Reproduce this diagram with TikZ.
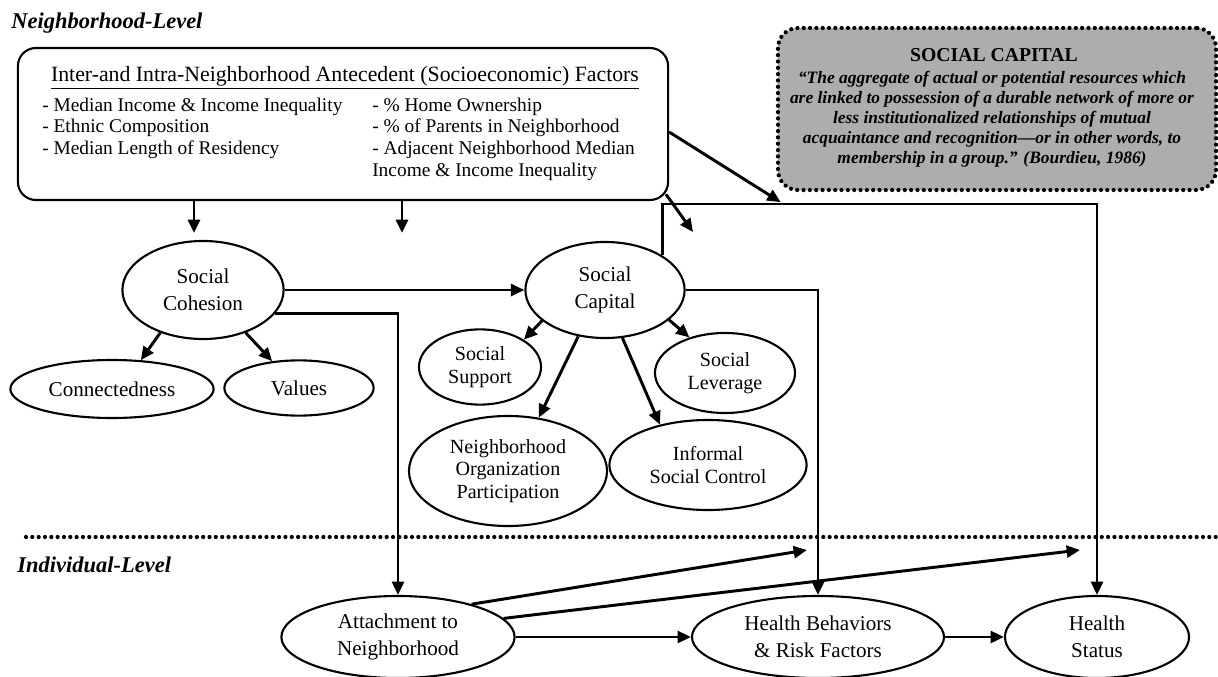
\documentclass[tikz,border=0pt]{standalone}
\usepackage{fontspec}
\setmainfont{Liberation Serif}
\usetikzlibrary{shapes.geometric, arrows.meta, positioning, calc}

\begin{document}
\begin{tikzpicture}[x=0.025cm, y=-0.025cm,
  oval/.style={ellipse, draw, line width=1.5pt, align=center, inner sep=0pt, font=\fontsize{15}{19}\selectfont},
  smalloval/.style={oval, font=\fontsize{14.3}{16}\selectfont},
  arr/.style={-{Triangle[length=9.5pt,width=8.5pt]}, line width=2.1pt},
  itemtext/.style={anchor=west, inner sep=0pt, font=\fontsize{13.8}{15}\selectfont},
  leveltext/.style={anchor=west, inner sep=0pt, font=\fontsize{16}{18}\selectfont\bfseries\itshape},
  dotline/.style={line width=3pt, line cap=round, dash pattern=on 0pt off 4.5pt},
  defbox/.style={rectangle, rounded corners=0.5cm, fill=black!32, draw, dotline, minimum width=10.95cm, minimum height=4.05cm}
]
  \useasboundingbox (0,0) rectangle (1218,677);
  \fill[white] (0,0) rectangle (1218,677);

  % Neighborhood level
  \node[leveltext] (nlevel) at (11,23) {Neighborhood-Level};
  \node[draw, rectangle, rounded corners=0.45cm, line width=1.5pt, minimum width=16.25cm, minimum height=3.8cm] (factors) at (343,124) {};
  \node[inner sep=0pt, font=\fontsize{15.5}{18}\selectfont] (ftitle) at (345,78) {\underline{Inter-and Intra-Neighborhood Antecedent (Socioeconomic) Factors}};
  \node[itemtext] (f1) at (42,107) {- Median Income \& Income Inequality};
  \node[itemtext] (f2) at (42,128) {- Ethnic Composition};
  \node[itemtext] (f3) at (42,150) {- Median Length of Residency};
  \node[itemtext] (f4) at (372,107) {- \% Home Ownership};
  \node[itemtext] (f5) at (372,128) {- \% of Parents in Neighborhood};
  \node[itemtext] (f6) at (372,150) {- Adjacent Neighborhood Median};
  \node[itemtext] (f7) at (372,172) {Income \& Income Inequality};

  % Social capital definition
  \node[defbox] (defbox) at (997,109) {};
  \node[inner sep=0pt, font=\fontsize{14}{16}\selectfont\bfseries] (dtitle) at (994,55) {SOCIAL CAPITAL};
  \node[inner sep=0pt, align=center, font=\fontsize{12.4}{14.2}\selectfont\bfseries\itshape] (dquote) at (992,119) {“The aggregate of actual or potential resources which\\are linked to possession of a durable network of more or\\less institutionalized relationships of mutual\\acquaintance and recognition—or in other words, to\\membership in a group.” (Bourdieu, 1986)};

  % Neighborhood constructs
  \node[oval, minimum width=4.03cm, minimum height=2.45cm] (cohesion) at (203,290) {Social\\Cohesion};
  \node[oval, minimum width=3.98cm, minimum height=2.4cm] (capital) at (605,290) {Social\\Capital};
  \node[oval, minimum width=5.08cm, minimum height=1.45cm] (connect) at (112,389) {Connectedness};
  \node[oval, minimum width=3.73cm, minimum height=1.38cm] (values) at (299,388) {Values};
  \node[smalloval, minimum width=3.05cm, minimum height=1.88cm] (support) at (480,367) {Social\\Support};
  \node[smalloval, minimum width=3.5cm, minimum height=2cm] (leverage) at (725,373) {Social\\Leverage};
  \node[smalloval, minimum width=4.95cm, minimum height=2.75cm] (org) at (508,471) {Neighborhood\\Organization\\Participation};
  \node[smalloval, minimum width=4.93cm, minimum height=2.25cm] (informal) at (708,465) {Informal\\Social Control};

  % Level divider
  \draw[dotline] (26,537) -- (1218,537);
  \node[leveltext] (ilevel) at (17,565) {Individual-Level};

  % Individual constructs
  \node[oval, minimum width=5.83cm, minimum height=2.05cm] (attach) at (398,637) {Attachment to\\Neighborhood};
  \node[oval, minimum width=6.3cm, minimum height=2.05cm] (behav) at (818,637) {Health Behaviors\\\& Risk Factors};
  \node[oval, minimum width=4.6cm, minimum height=2.05cm] (status) at (1097,637) {Health\\Status};

  % Free ends
  \coordinate (down1) at (194,233);
  \coordinate (down2) at (402,233);
  \coordinate (corner) at (693,232);
  \coordinate (cap2hs) at (1097,204);
  \coordinate (mod1) at (807,550);
  \coordinate (mod2) at (1080,550);

  % Connections
  \draw[arr] (down1 |- factors.south) -- (down1);
  \draw[arr] (down2 |- factors.south) -- (down2);
  \draw[arr] ([yshift=-0.2cm]factors.east) -- ([xshift=0.12cm,yshift=-0.25cm]defbox.south west);
  \draw[arr] ([xshift=-0.08cm,yshift=0.17cm]factors.south east) -- (corner);
  \draw[arr] (cohesion.east) -- (capital.west);
  \draw[arr] (cohesion.225) -- (connect.45);
  \draw[arr] (cohesion.-45) -- (values.135);
  \draw[arr] (capital.206) -- (support.north east);
  \draw[arr] (capital.240) -- (org.60);
  \draw[arr] (capital.290) -- (informal.140);
  \draw[arr] (capital.-25) -- (leverage.135);
  \draw[arr] (cohesion.-18) -| (attach.north);
  \draw[arr] (capital.east) -| (behav.north);
  \draw[arr] (capital.north east) |- (cap2hs) -- (status.north);
  \draw[arr] (attach.east) -- (behav.west);
  \draw[arr] (behav.east) -- (status.west);
  \draw[arr] (attach.24) -- (mod1);
  \draw[arr] (attach.10) -- (mod2);
\end{tikzpicture}
\end{document}
